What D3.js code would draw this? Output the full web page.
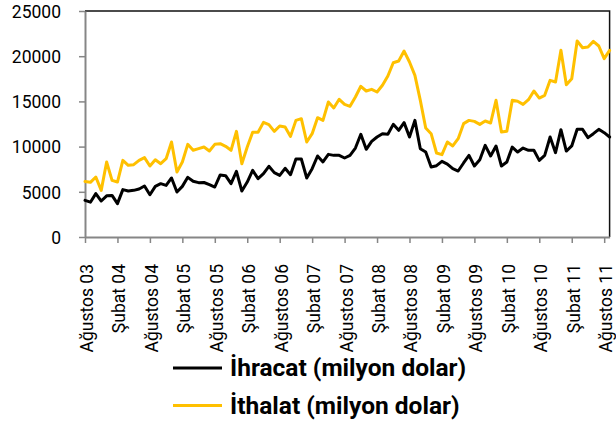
<!DOCTYPE html>
<html>
<head>
<meta charset="utf-8">
<script src="https://cdn.jsdelivr.net/npm/d3@7"></script>
<style>
  html, body { margin: 0; padding: 0; background: #ffffff; }
  svg { display: block; font-family: Roboto, "Open Sans", "DejaVu Sans", sans-serif; }
</style>
</head>
<body>
<svg id="chart" width="616" height="426"></svg>
<script>
// Monthly categories, Aug 2003 .. Sep 2011
const months = d3.timeMonth
  .range(new Date(2003, 7, 1), new Date(2011, 9, 1))
  .map(d3.timeFormat("%Y-%m"));

// Exports, million USD
const ihracat = [
  4050, 3850, 4800, 3980, 4550, 4600, 3690, 5240, 5090, 5160, 5310, 5640,
  4680, 5600, 5900, 5710, 6530, 4980, 5600, 6600, 6160, 6010, 6030, 5790,
  5530, 6860, 6780, 5900, 7260, 5090, 6080, 7370, 6450, 7010, 7820, 7120,
  6820, 7600, 6890, 8630, 8630, 6530, 7560, 8960, 8300, 9140, 9030, 9030,
  8740, 9030, 9840, 11360, 9700, 10580, 11060, 11430, 11360, 12460, 11800, 12650,
  11060, 12900, 9770, 9400, 7740, 7890, 8370, 8070, 7560, 7300, 8190, 9030,
  7850, 8550, 10140, 8960, 10070, 7850, 8300, 9950, 9400, 9840, 9590, 9590,
  8480, 9030, 11060, 9330, 11870, 9510, 10070, 11910, 11910, 10990, 11430, 11910,
  11540, 11060
];

// Imports, million USD
const ithalat = [
  6150, 6050, 6640, 5160, 8300, 6270, 6080, 8480, 7930, 8000, 8480, 8780,
  7850, 8550, 8110, 8660, 10510, 7190, 8300, 10250, 9590, 9770, 9950, 9510,
  10250, 10320, 10030, 9590, 11690, 8110, 9955, 11580, 11580, 12680, 12430, 11690,
  12280, 12170, 11130, 12900, 13090, 10510, 11430, 13200, 12900, 14930, 14270, 15230,
  14670, 14450, 15490, 16670, 16150, 16330, 16040, 16780, 17810, 19280, 19470, 20570,
  19360, 17880, 15120, 12060, 11430, 9290, 9110, 10510, 10070, 10880, 12540, 12900,
  12790, 12460, 12830, 12610, 15120, 11610, 11690, 15120, 15010, 14670, 15190, 16150,
  15370, 15670, 17330, 17150, 20650, 16850, 17510, 21680, 20940, 21020, 21640, 21130,
  19730, 20650
];

const tickLabels = [
  "Ağustos 03", "Şubat 04", "Ağustos 04", "Şubat 05", "Ağustos 05", "Şubat 06",
  "Ağustos 06", "Şubat 07", "Ağustos 07", "Şubat 08", "Ağustos 08", "Şubat 09",
  "Ağustos 09", "Şubat 10", "Ağustos 10", "Şubat 11", "Ağustos 11"
];
const yTicks = [0, 5000, 10000, 15000, 20000, 25000];

const seriesNames = ["İhracat (milyon dolar)", "İthalat (milyon dolar)"];
const seriesColors = ["#000000", "#FFC000"];

const svg = d3.select("#chart");
const plotLeft = 85, plotRight = 609.6, plotTop = 11, plotBottom = 237;

const x = d3.scalePoint().domain(months).range([plotLeft, plotRight]);
const y = d3.scaleLinear().domain([0, 25000]).range([plotBottom, plotTop]);

// plot area frame (top and right edges)
svg.append("path")
  .attr("d", `M${plotLeft},${plotTop}H${plotRight}V${plotBottom}`)
  .attr("fill", "none")
  .attr("stroke", "#111")
  .attr("stroke-width", 1.5);

// y axis
const gy = svg.append("g")
  .attr("transform", `translate(${plotLeft},0)`)
  .call(d3.axisLeft(y).tickValues(yTicks).tickSize(6).tickSizeOuter(0).tickFormat(d3.format("d")));
gy.select(".domain").attr("stroke", "#868686").attr("stroke-width", 2);
gy.selectAll(".tick line").attr("stroke", "#868686").attr("stroke-width", 1.5);
gy.selectAll(".tick text")
  .attr("x", -24)
  .attr("dy", "0.36em")
  .attr("text-anchor", "end")
  .attr("font-size", 17.5)
  .attr("font-family", "Roboto")
  .attr("fill", "#000");

// x axis
const tickMonths = months.filter((d, i) => i % 6 === 0);
const gx = svg.append("g")
  .attr("transform", `translate(0,${plotBottom})`)
  .call(d3.axisBottom(x).tickValues(tickMonths).tickSize(6).tickSizeOuter(0)
    .tickFormat(d => tickLabels[tickMonths.indexOf(d)]));
gx.select(".domain").attr("stroke", "#868686").attr("stroke-width", 2);
gx.selectAll(".tick line").attr("stroke", "#868686").attr("stroke-width", 1.5);
gx.selectAll(".tick text")
  .attr("x", null)
  .attr("y", null)
  .attr("dy", null)
  .attr("text-anchor", "end")
  .attr("transform", "translate(7.5,27) rotate(-90)")
  .attr("font-size", 17.5)
  .attr("font-family", "Roboto")
  .attr("fill", "#000");

// series lines
const line = d3.line()
  .x((d, i) => x(months[i]))
  .y(d => y(d))
  .curve(d3.curveLinear);

[ihracat, ithalat].forEach((values, k) => {
  svg.append("path")
    .datum(values)
    .attr("d", line)
    .attr("fill", "none")
    .attr("stroke", seriesColors[k])
    .attr("stroke-width", 3)
    .attr("stroke-linejoin", "round")
    .attr("stroke-linecap", "round");
});

// legend
const legend = svg.append("g");
const legendRows = [368, 405.5];
seriesNames.forEach((name, k) => {
  const row = legend.append("g").attr("transform", `translate(0,${legendRows[k]})`);
  row.append("line")
    .attr("x1", 173).attr("x2", 222)
    .attr("y1", 0).attr("y2", 0)
    .attr("stroke", seriesColors[k])
    .attr("stroke-width", 3);
  row.append("text")
    .attr("x", 230)
    .attr("y", 8)
    .attr("font-size", 24.5)
    .attr("font-weight", "bold")
    .attr("font-family", "Roboto")
    .attr("fill", "#000")
    .text(name);
});
</script>
</body>
</html>
